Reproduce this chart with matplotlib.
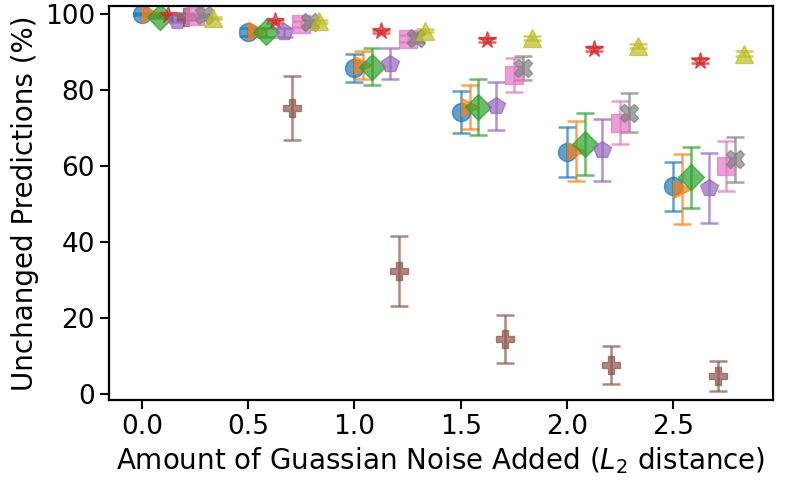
#!/usr/bin/env python3
"""
Robustness to Gaussian noise
Share of predictions that stay unchanged as noise grows
"""

import numpy as np
import matplotlib
matplotlib.use('Agg')
import matplotlib.pyplot as plt

# noise levels (L2 distance)
noise_levels = [0.0, 0.5, 1.0, 1.5, 2.0, 2.5]

# mean unchanged predictions (%) per series
blue_mean = [100.0, 95.2, 85.8, 74.2, 63.6, 54.6]
orange_mean = [99.9, 95.4, 86.5, 75.5, 63.8, 53.9]
green_mean = [99.2, 95.2, 86.1, 75.5, 65.7, 57.0]
red_mean = [99.8, 98.0, 95.4, 93.2, 90.7, 87.7]
purple_mean = [98.2, 95.2, 86.9, 75.8, 64.1, 54.1]
brown_mean = [99.3, 75.2, 32.2, 14.4, 7.5, 4.6]
pink_mean = [99.5, 97.4, 93.5, 83.9, 71.4, 60.0]
gray_mean = [99.6, 97.8, 93.6, 85.8, 74.0, 61.7]
olive_mean = [98.9, 98.0, 95.6, 93.6, 91.6, 89.5]

# standard deviations
blue_std = [0.2, 1.0, 3.6, 5.5, 6.5, 6.5]
orange_std = [0.2, 1.0, 3.6, 5.9, 7.9, 9.2]
green_std = [0.3, 1.2, 4.8, 7.3, 8.2, 8.0]
red_std = [0.1, 0.3, 0.4, 0.5, 0.6, 0.7]
purple_std = [0.4, 1.2, 4.1, 6.3, 8.2, 9.2]
brown_std = [1.0, 8.5, 9.2, 6.4, 5.0, 4.0]
pink_std = [0.3, 0.8, 1.0, 4.4, 5.7, 6.6]
gray_std = [0.3, 0.6, 1.0, 3.2, 5.2, 6.0]
olive_std = [0.2, 0.3, 0.4, 0.5, 0.6, 0.7]


def plot_noise():
    fig = plt.figure(figsize=(7.89, 4.93), dpi=100)
    ax = fig.add_axes([0.138, 0.189, 0.842, 0.799])

    series = [
        (blue_mean, blue_std, 'tab:blue', 'o'),
        (orange_mean, orange_std, 'tab:orange', '>'),
        (green_mean, green_std, 'tab:green', 'D'),
        (red_mean, red_std, 'tab:red', '*'),
        (purple_mean, purple_std, 'tab:purple', 'p'),
        (brown_mean, brown_std, 'tab:brown', 'P'),
        (pink_mean, pink_std, 'tab:pink', 's'),
        (gray_mean, gray_std, 'tab:gray', 'X'),
        (olive_mean, olive_std, 'tab:olive', '^'),
    ]

    x = np.array(noise_levels)
    for i, (mean, std, color, marker) in enumerate(series):
        ax.errorbar(x + i / 24, mean, yerr=std, fmt=marker, color=color,
                    markersize=13, capsize=6.5, elinewidth=1.8, capthick=1.8,
                    alpha=0.7)

    ax.set_xlim(-0.155, 2.97)
    ax.set_ylim(-1.6, 102.1)
    ax.set_xticks(noise_levels)
    ax.set_yticks([0, 20, 40, 60, 80, 100])
    ax.tick_params(labelsize=19, width=1.5, length=6.5)
    for sp in ax.spines.values():
        sp.set_linewidth(1.6)

    ax.set_xlabel('Amount of Guassian Noise Added ($L_2$ distance)', fontsize=20)
    ax.set_ylabel('Unchanged Predictions (%)', fontsize=20)

    fig.savefig('out.png', dpi=100)


if __name__ == "__main__":
    plot_noise()
